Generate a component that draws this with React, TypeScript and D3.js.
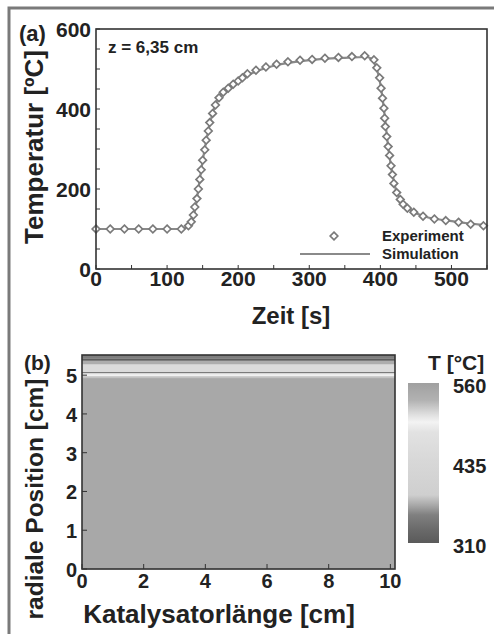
import React, { useRef, useEffect } from "react";
import * as d3 from "d3";

// (a) Temperaturverlauf bei z = 6,35 cm
const expTime = [0, 20, 40, 60, 80, 100, 120, 130, 134, 137, 139, 142, 144, 146, 148, 150, 153, 155, 158, 160, 164, 168, 173, 179, 186, 193, 200, 206, 213, 225, 239, 254, 270, 287, 304, 322, 341, 360, 378, 391, 395, 399, 401, 403, 405, 406, 407, 409, 411, 413, 415, 417, 419, 423, 428, 432, 438, 447, 460, 476, 492, 510, 527, 545];
const expTemp = [100, 100, 100, 100, 100, 100, 100, 108, 118, 135, 155, 176, 200, 224, 248, 272, 298, 322, 345, 366, 389, 410, 428, 442, 452, 462, 470, 478, 488, 497, 505, 512, 518, 522, 524, 527, 529, 531, 533, 523, 503, 478, 452, 427, 402, 377, 356, 331, 306, 284, 258, 236, 214, 191, 174, 162, 152, 142, 132, 125, 121, 117, 112, 108];
const simTime = [0, 120, 128, 133, 137, 141, 145, 150, 155, 160, 165, 170, 176, 185, 200, 220, 250, 300, 350, 380, 386, 390, 394, 398, 402, 406, 410, 414, 418, 422, 428, 436, 448, 465, 490, 520, 550];
const simTemp = [100, 100, 104, 112, 130, 165, 212, 270, 320, 362, 395, 420, 437, 452, 470, 490, 508, 522, 528, 530, 527, 520, 505, 480, 440, 385, 320, 268, 228, 197, 175, 157, 142, 130, 122, 115, 109];
const timeTicks = [0, 100, 200, 300, 400, 500];
const tempTicks = [0, 200, 400, 600];

// (b) radiales Temperaturprofil (entlang der Länge konstant)
const axialEdges = [0, 10.15];
const radialEdges = [0, 4.93, 4.98, 5.02, 5.06, 5.085, 5.29, 5.38, 5.43, 5.52];
const radialTemp = [548, 525, 500, 488, 330, 455, 540, 316, 352];
const lengthTicks = [0, 2, 4, 6, 8, 10];
const posTicks = [0, 1, 2, 3, 4, 5];

// Farbskala (Grauwerte, nicht monoton)
const cmapValues = [310, 330, 354, 369, 385, 440, 483, 499, 510, 533, 560];
const cmapColors = ["#5a5a5a", "#696969", "#808080", "#a8a8a8", "#cfcfcf", "#d8d8d8", "#e2e2e2", "#f3f3f3", "#e0e0e0", "#b2b2b2", "#a0a0a0"];
const cbarTicks = [560, 435, 310];

const FONT = "'Liberation Sans', Arial, Helvetica, sans-serif";
const INK = "#222";

const App = () => {
  const ref = useRef(null);

  useEffect(() => {
    const width = 494;
    const height = 634;

    d3.select(ref.current).selectAll("*").remove();

    const svg = d3
      .select(ref.current)
      .append("svg")
      .attr("width", width)
      .attr("height", height)
      .style("position", "absolute")
      .style("left", "0px")
      .style("top", "0px")
      .style("background", "#fff")
      .style("font-family", FONT)
      .style("font-weight", "bold");

    // Rahmen oben / links
    svg.append("path")
      .attr("d", `M9,634 V8 H494`)
      .attr("fill", "none")
      .attr("stroke", "#7a7a7a")
      .attr("stroke-width", 3);

    // ---------- (a) ----------
    const x = d3.scaleLinear().domain([0, 550]).range([96, 487]);
    const y = d3.scaleLinear().domain([0, 600]).range([269, 29]);

    const gA = svg.append("g");

    // Nebenticks innen
    gA.selectAll(".xt")
      .data(d3.range(0, 551, 50))
      .join("line")
      .attr("x1", (d) => x(d)).attr("x2", (d) => x(d))
      .attr("y1", y(0)).attr("y2", y(0) - 4)
      .attr("stroke", "#333").attr("stroke-width", 1);
    gA.selectAll(".yt")
      .data(d3.range(0, 601, 50))
      .join("line")
      .attr("x1", x(0)).attr("x2", x(0) + 4)
      .attr("y1", (d) => y(d)).attr("y2", (d) => y(d))
      .attr("stroke", "#333").attr("stroke-width", 1);

    const line = d3
      .line()
      .x((d) => x(d[0]))
      .y((d) => y(d[1]))
      .curve(d3.curveMonotoneX);

    gA.append("path")
      .datum(simTime.map((t, i) => [t, simTemp[i]]))
      .attr("fill", "none")
      .attr("stroke", "#8a8a8a")
      .attr("stroke-width", 2.2)
      .attr("d", line);

    const diamond = (cx, cy, r) => `M${cx},${cy - r}L${cx + r},${cy}L${cx},${cy + r}L${cx - r},${cy}Z`;

    gA.selectAll(".pt")
      .data(expTime.map((t, i) => [t, expTemp[i]]))
      .join("path")
      .attr("d", (d) => diamond(x(d[0]), y(d[1]), 3.8))
      .attr("fill", "#fff")
      .attr("stroke", "#7a7a7a")
      .attr("stroke-width", 1.7);

    gA.append("rect")
      .attr("x", x(0)).attr("y", y(600))
      .attr("width", x(550) - x(0)).attr("height", y(0) - y(600))
      .attr("fill", "none").attr("stroke", "#333").attr("stroke-width", 1.6);

    gA.selectAll(".xl")
      .data(timeTicks)
      .join("text")
      .attr("x", (d) => x(d)).attr("y", 286)
      .attr("text-anchor", "middle")
      .attr("font-size", 21).attr("fill", INK)
      .text((d) => d);
    gA.selectAll(".yl")
      .data(tempTicks)
      .join("text")
      .attr("x", 91).attr("y", (d) => y(d) + 8)
      .attr("text-anchor", "end")
      .attr("font-size", 21).attr("fill", INK)
      .text((d) => d);

    gA.append("text")
      .attr("x", 291).attr("y", 324)
      .attr("text-anchor", "middle")
      .attr("font-size", 24).attr("fill", INK)
      .text("Zeit [s]");
    gA.append("text")
      .attr("transform", "translate(43,147) rotate(-90)")
      .attr("text-anchor", "middle")
      .attr("font-size", 26).attr("fill", INK)
      .text("Temperatur [ºC]");
    gA.append("text")
      .attr("x", 19).attr("y", 41)
      .attr("font-size", 22).attr("fill", INK)
      .text("(a)");
    gA.append("text")
      .attr("x", 108).attr("y", 53)
      .attr("font-size", 17).attr("fill", INK)
      .text("z = 6,35 cm");

    // Legende
    gA.append("path")
      .attr("d", diamond(334, 236, 3.8))
      .attr("fill", "#fff").attr("stroke", "#7a7a7a").attr("stroke-width", 1.7);
    gA.append("line")
      .attr("x1", 300).attr("x2", 370).attr("y1", 254).attr("y2", 254)
      .attr("stroke", "#8a8a8a").attr("stroke-width", 2.2);
    gA.append("text")
      .attr("x", 382).attr("y", 241)
      .attr("font-size", 15).attr("fill", INK)
      .text("Experiment");
    gA.append("text")
      .attr("x", 382).attr("y", 259)
      .attr("font-size", 15).attr("fill", INK)
      .text("Simulation");

    // ---------- (b) ----------
    const xb = d3.scaleLinear().domain([0, 10.15]).range([82, 395]);
    const yb = d3.scaleLinear().domain([0, 5.52]).range([569, 355]);
    const color = d3.scaleLinear().domain(cmapValues).range(cmapColors);

    const gB = svg.append("g");

    const cells = [];
    radialTemp.forEach((v, i) => {
      for (let j = 0; j < axialEdges.length - 1; j++) {
        cells.push({ x0: axialEdges[j], x1: axialEdges[j + 1], r0: radialEdges[i], r1: radialEdges[i + 1], v });
      }
    });

    gB.selectAll(".cell")
      .data(cells)
      .join("rect")
      .attr("x", (d) => xb(d.x0))
      .attr("width", (d) => xb(d.x1) - xb(d.x0))
      .attr("y", (d) => yb(d.r1))
      .attr("height", (d) => yb(d.r0) - yb(d.r1) + 0.3)
      .attr("fill", (d) => color(d.v));

    gB.selectAll(".xt")
      .data(lengthTicks)
      .join("line")
      .attr("x1", (d) => xb(d)).attr("x2", (d) => xb(d))
      .attr("y1", yb(0)).attr("y2", yb(0) - 5)
      .attr("stroke", "#333").attr("stroke-width", 1);
    gB.selectAll(".yt")
      .data(posTicks)
      .join("line")
      .attr("x1", xb(0)).attr("x2", xb(0) + 5)
      .attr("y1", (d) => yb(d)).attr("y2", (d) => yb(d))
      .attr("stroke", "#333").attr("stroke-width", 1);

    gB.append("rect")
      .attr("x", xb(0)).attr("y", yb(5.52))
      .attr("width", xb(10.15) - xb(0)).attr("height", yb(0) - yb(5.52))
      .attr("fill", "none").attr("stroke", "#333").attr("stroke-width", 1.6);

    gB.selectAll(".xl")
      .data(lengthTicks)
      .join("text")
      .attr("x", (d) => xb(d)).attr("y", 588)
      .attr("text-anchor", "middle")
      .attr("font-size", 20).attr("fill", INK)
      .text((d) => d);
    gB.selectAll(".yl")
      .data(posTicks)
      .join("text")
      .attr("x", 77).attr("y", (d) => yb(d) + 8)
      .attr("text-anchor", "end")
      .attr("font-size", 20).attr("fill", INK)
      .text((d) => d);

    gB.append("text")
      .attr("x", 219).attr("y", 623)
      .attr("text-anchor", "middle")
      .attr("font-size", 26).attr("fill", INK)
      .text("Katalysatorlänge [cm]");
    gB.append("text")
      .attr("transform", "translate(43,499) rotate(-90)")
      .attr("text-anchor", "middle")
      .attr("font-size", 24.5).attr("fill", INK)
      .text("radiale Position [cm]");
    gB.append("text")
      .attr("x", 24).attr("y", 370)
      .attr("font-size", 21).attr("fill", INK)
      .text("(b)");

    // Farbbalken
    const yc = d3.scaleLinear().domain([310, 560]).range([543, 383]);
    const grad = svg.append("defs")
      .append("linearGradient")
      .attr("id", "cbar")
      .attr("x1", 0).attr("y1", 0).attr("x2", 0).attr("y2", 1);
    grad.selectAll("stop")
      .data(cmapValues.map((v, i) => ({ v, c: cmapColors[i] })).reverse())
      .join("stop")
      .attr("offset", (d) => (560 - d.v) / 250)
      .attr("stop-color", (d) => d.c);

    gB.append("rect")
      .attr("x", 408).attr("y", yc(560))
      .attr("width", 31).attr("height", yc(310) - yc(560))
      .attr("fill", "url(#cbar)");

    gB.selectAll(".cl")
      .data(cbarTicks)
      .join("text")
      .attr("x", 453).attr("y", (d) => yc(d) + 10)
      .attr("font-size", 20).attr("fill", INK)
      .text((d) => d);
    gB.append("text")
      .attr("x", 428).attr("y", 370)
      .attr("font-size", 21).attr("fill", INK)
      .text("T [°C]");
  }, []);

  return <div ref={ref}></div>;
};

export default App;
